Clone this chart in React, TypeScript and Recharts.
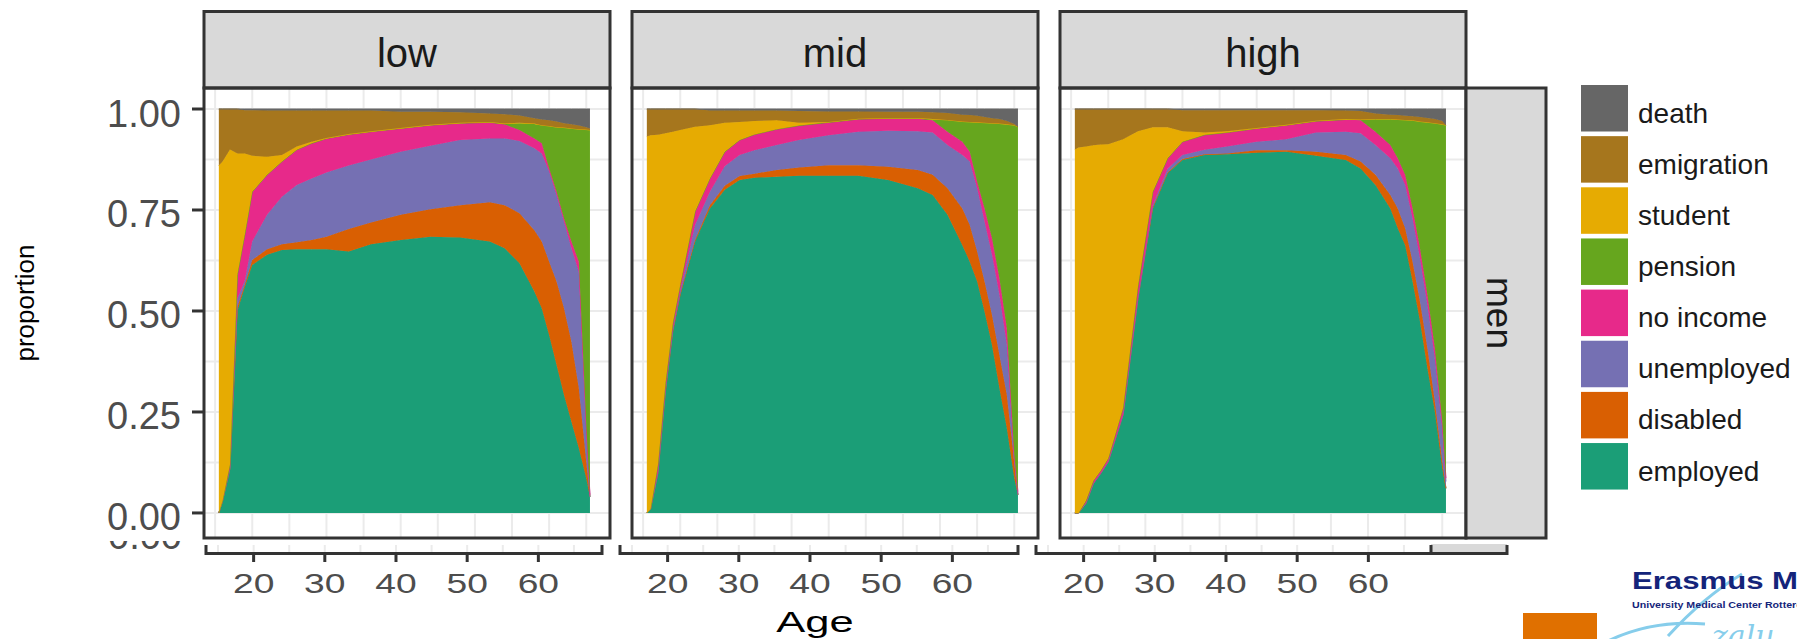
import { AreaChart, Area, XAxis, YAxis, CartesianGrid } from 'recharts'

// ages (years) at which the proportions were read
const ages = [15.5, 16, 17, 18, 19, 20, 22, 24, 26, 28, 30, 33, 36, 40, 44, 48, 52, 54, 56, 58, 59, 60, 61, 62, 63, 64, 65, 65.5]

// low education, men
const lowEmployed = [0, 0.03, 0.11, 0.5, 0.56, 0.614, 0.639, 0.651, 0.653, 0.653, 0.653, 0.647, 0.665, 0.676, 0.684, 0.682, 0.672, 0.655, 0.618, 0.548, 0.507, 0.44, 0.366, 0.292, 0.226, 0.16, 0.086, 0.04]
const lowDisabled = [0, 0, 0, 0.01, 0.005, 0.012, 0.014, 0.014, 0.017, 0.023, 0.031, 0.056, 0.054, 0.062, 0.068, 0.08, 0.097, 0.107, 0.124, 0.152, 0.165, 0.182, 0.207, 0.215, 0.198, 0.149, 0.041, 0]
const lowUnemployed = [0, 0, 0, 0.02, 0.01, 0.046, 0.085, 0.118, 0.142, 0.152, 0.159, 0.157, 0.156, 0.156, 0.157, 0.161, 0.158, 0.165, 0.179, 0.203, 0.218, 0.223, 0.214, 0.214, 0.231, 0.288, 0.083, 0]
const lowNoIncome = [0, 0, 0.01, 0.06, 0.115, 0.123, 0.099, 0.087, 0.087, 0.087, 0.084, 0.077, 0.069, 0.058, 0.051, 0.042, 0.04, 0.035, 0.027, 0.024, 0.025, 0.008, 0.008, 0.008, 0.017, 0.025, 0.008, 0.005]
const lowPension = [0, 0, 0, 0, 0, 0, 0, 0, 0, 0, 0, 0, 0, 0, 0, 0, 0, 0.001, 0.017, 0.036, 0.045, 0.105, 0.16, 0.225, 0.28, 0.328, 0.731, 0.903]
const lowStudent = [0.86, 0.84, 0.78, 0.3, 0.2, 0.089, 0.045, 0.016, 0.008, 0.004, 0.001, 0.001, 0.001, 0.001, 0.001, 0.001, 0.001, 0.001, 0.001, 0.001, 0, 0, 0, 0, 0, 0, 0, 0]
const lowEmigration = [0.14, 0.13, 0.1, 0.11, 0.107, 0.113, 0.114, 0.11, 0.089, 0.077, 0.068, 0.058, 0.051, 0.04, 0.032, 0.026, 0.021, 0.023, 0.018, 0.013, 0.014, 0.014, 0.014, 0.011, 0.01, 0.009, 0.006, 0.004]
const lowDeath = [0, 0, 0, 0, 0.003, 0.003, 0.004, 0.004, 0.004, 0.004, 0.004, 0.004, 0.004, 0.007, 0.007, 0.008, 0.011, 0.013, 0.016, 0.023, 0.026, 0.028, 0.031, 0.035, 0.038, 0.041, 0.045, 0.048]

// mid education, men
const midEmployed = [0, 0.01, 0.1, 0.3, 0.45, 0.54, 0.672, 0.754, 0.8, 0.824, 0.83, 0.832, 0.835, 0.835, 0.835, 0.824, 0.804, 0.787, 0.738, 0.663, 0.622, 0.573, 0.498, 0.416, 0.309, 0.21, 0.086, 0.045]
const midDisabled = [0, 0, 0, 0, 0, 0.002, 0.004, 0.008, 0.01, 0.01, 0.01, 0.017, 0.02, 0.026, 0.026, 0.033, 0.045, 0.05, 0.066, 0.091, 0.091, 0.074, 0.075, 0.074, 0.082, 0.082, 0.041, 0]
const midUnemployed = [0, 0, 0, 0.005, 0.005, 0.006, 0.037, 0.033, 0.048, 0.052, 0.058, 0.062, 0.068, 0.074, 0.083, 0.089, 0.096, 0.105, 0.107, 0.132, 0.157, 0.157, 0.148, 0.149, 0.149, 0.124, 0.008, 0]
const midNoIncome = [0, 0, 0.02, 0.015, 0.015, 0.017, 0.033, 0.033, 0.036, 0.037, 0.039, 0.039, 0.036, 0.032, 0.031, 0.031, 0.031, 0.03, 0.033, 0.033, 0.024, 0.016, 0.033, 0.041, 0.041, 0.041, 0.009, 0.008]
const midPension = [0, 0, 0, 0, 0, 0, 0, 0, 0, 0, 0, 0, 0, 0, 0, 0, 0.001, 0.002, 0.029, 0.05, 0.074, 0.147, 0.212, 0.285, 0.383, 0.505, 0.816, 0.903]
const midStudent = [0.932, 0.925, 0.816, 0.62, 0.474, 0.383, 0.21, 0.132, 0.072, 0.045, 0.033, 0.022, 0.007, 0.001, 0.001, 0.001, 0.001, 0.001, 0, 0, 0, 0, 0, 0, 0, 0, 0, 0]
const midEmigration = [0.068, 0.065, 0.064, 0.06, 0.056, 0.052, 0.044, 0.036, 0.03, 0.028, 0.026, 0.024, 0.029, 0.026, 0.018, 0.015, 0.015, 0.017, 0.017, 0.017, 0.017, 0.016, 0.014, 0.012, 0.011, 0.008, 0.003, 0]
const midDeath = [0, 0, 0, 0, 0, 0, 0, 0.004, 0.004, 0.004, 0.004, 0.004, 0.005, 0.006, 0.006, 0.007, 0.007, 0.008, 0.01, 0.014, 0.015, 0.017, 0.02, 0.023, 0.025, 0.03, 0.037, 0.044]

// high education, men
const highEmployed = [0, 0, 0.024, 0.073, 0.098, 0.127, 0.243, 0.531, 0.754, 0.841, 0.874, 0.886, 0.888, 0.892, 0.894, 0.884, 0.874, 0.853, 0.812, 0.754, 0.705, 0.663, 0.573, 0.474, 0.358, 0.251, 0.111, 0.061]
const highDisabled = [0, 0, 0, 0, 0, 0, 0, 0, 0.002, 0.002, 0.002, 0.002, 0.002, 0.006, 0.004, 0.01, 0.012, 0.017, 0.025, 0.033, 0.049, 0.042, 0.049, 0.049, 0.05, 0.025, 0.016, 0]
const highUnemployed = [0, 0, 0, 0, 0, 0, 0, 0, 0.006, 0.009, 0.01, 0.011, 0.017, 0.021, 0.027, 0.048, 0.058, 0.07, 0.074, 0.091, 0.099, 0.107, 0.107, 0.107, 0.107, 0.107, 0.083, 0.017]
const highNoIncome = [0, 0, 0.006, 0.007, 0.007, 0.008, 0.017, 0.029, 0.033, 0.026, 0.033, 0.037, 0.035, 0.033, 0.035, 0.028, 0.03, 0.032, 0.033, 0.033, 0.025, 0.025, 0.025, 0.025, 0.025, 0.025, 0.016, 0.008]
const highPension = [0, 0, 0, 0, 0, 0, 0, 0, 0, 0, 0, 0, 0, 0, 0, 0, 0, 0.002, 0.031, 0.064, 0.096, 0.136, 0.218, 0.314, 0.427, 0.557, 0.736, 0.874]
const highStudent = [0.9, 0.905, 0.877, 0.83, 0.807, 0.778, 0.665, 0.385, 0.16, 0.077, 0.026, 0.006, 0.003, 0.001, 0.001, 0.001, 0.001, 0, 0, 0, 0, 0, 0, 0, 0, 0, 0, 0]
const highEmigration = [0.1, 0.095, 0.093, 0.09, 0.088, 0.087, 0.075, 0.055, 0.045, 0.045, 0.052, 0.055, 0.052, 0.044, 0.036, 0.026, 0.021, 0.021, 0.014, 0.011, 0.011, 0.01, 0.01, 0.011, 0.011, 0.01, 0.008, 0]
const highDeath = [0, 0, 0, 0, 0, 0, 0, 0, 0, 0, 0.003, 0.003, 0.003, 0.003, 0.003, 0.003, 0.004, 0.005, 0.011, 0.014, 0.015, 0.017, 0.018, 0.02, 0.022, 0.025, 0.03, 0.04]

const panelNames = ['low', 'mid', 'high']
const rowName = 'men'
const yTicks = [0, 0.25, 0.5, 0.75, 1]
const xTicks = [20, 30, 40, 50, 60]
const gridAges = [15, 20, 25, 30, 35, 40, 45, 50, 55, 60, 65]
const gridProps = [0, 0.125, 0.25, 0.375, 0.5, 0.625, 0.75, 0.875, 1]

// stacking order, bottom first (Dark2 palette)
const states = [
  { key: 'employed', color: '#1B9E77' },
  { key: 'disabled', color: '#D95F02' },
  { key: 'unemployed', color: '#7570B3' },
  { key: 'no income', color: '#E7298A' },
  { key: 'pension', color: '#66A61E' },
  { key: 'student', color: '#E6AB02' },
  { key: 'emigration', color: '#A6761D' },
  { key: 'death', color: '#666666' },
]

const panelSeries = [
  [lowEmployed, lowDisabled, lowUnemployed, lowNoIncome, lowPension, lowStudent, lowEmigration, lowDeath],
  [midEmployed, midDisabled, midUnemployed, midNoIncome, midPension, midStudent, midEmigration, midDeath],
  [highEmployed, highDisabled, highUnemployed, highNoIncome, highPension, highStudent, highEmigration, highDeath],
]

function buildRows(series: number[][]) {
  return ages.map((age, i) => {
    const row: Record<string, number> = { age }
    states.forEach((s, j) => {
      row[s.key] = series[j][i]
    })
    return row
  })
}

const FONT = '"Liberation Sans", Arial, Helvetica, sans-serif'
const PANEL_LEFT = [204, 632, 1060]
const PANEL_TOP = 88
const PANEL_W = 406
const PANEL_H = 450
const AXIS_LEFT = [207, 621, 1037]
const AXIS_W = 394

function YTick(props: any) {
  const { x, y, payload } = props
  return (
    <text x={x} y={y + 17.5} textAnchor="end" fontSize={38} fill="#4D4D4D" fontFamily={FONT}>
      {Number(payload.value).toFixed(2)}
    </text>
  )
}

function XTick(props: any) {
  const { x, y, payload } = props
  return (
    <g transform={`translate(${x},${y + 31})`}>
      <text transform="scale(1.33,1)" textAnchor="middle" fontSize={28} fill="#4D4D4D" fontFamily={FONT}>
        {payload.value}
      </text>
    </g>
  )
}

function Panel({ series, withAxis }: { series: number[][]; withAxis: boolean }) {
  const rows = buildRows(series)
  return (
    <AreaChart
      width={withAxis ? PANEL_LEFT[0] + PANEL_W : PANEL_W}
      height={PANEL_H}
      data={rows}
      margin={{ top: 0, right: 0, bottom: 0, left: 0 }}
    >
      <CartesianGrid stroke="#EBEBEB" strokeWidth={2} verticalValues={gridAges} horizontalValues={gridProps} />
      <XAxis type="number" dataKey="age" domain={[13.5, 68.2]} ticks={gridAges} allowDataOverflow hide />
      <YAxis
        type="number"
        domain={[-0.062, 1.052]}
        ticks={yTicks}
        allowDataOverflow
        hide={!withAxis}
        width={PANEL_LEFT[0]}
        axisLine={false}
        tickSize={12}
        tickMargin={11}
        tickLine={{ stroke: '#333333', strokeWidth: 3 }}
        tick={(p: any) => <YTick {...p} />}
        interval={0}
      />
      {states.map((s) => (
        <Area
          key={s.key}
          type="linear"
          dataKey={s.key}
          stackId="1"
          fill={s.color}
          fillOpacity={1}
          stroke={s.color}
          strokeWidth={1}
          dot={false}
          activeDot={false}
          isAnimationActive={false}
        />
      ))}
    </AreaChart>
  )
}

function AgeAxis({ series }: { series: number[][] }) {
  return (
    <AreaChart width={AXIS_W} height={60} data={buildRows(series)} margin={{ top: 0, right: 0, bottom: 0, left: 0 }}>
      <CartesianGrid stroke="#EBEBEB" strokeWidth={2} horizontal={false} verticalValues={gridAges} />
      <XAxis
        type="number"
        dataKey="age"
        domain={[13.45, 68.8]}
        ticks={xTicks}
        allowDataOverflow
        height={52}
        axisLine={false}
        tickSize={9}
        tickMargin={0}
        tickLine={{ stroke: '#333333', strokeWidth: 3 }}
        tick={(p: any) => <XTick {...p} />}
        interval={0}
      />
      <YAxis hide domain={[0, 1]} />
    </AreaChart>
  )
}

export default function App() {
  return (
    <div
      style={{
        position: 'absolute',
        left: 0,
        top: 0,
        width: 1797,
        height: 639,
        overflow: 'hidden',
        background: '#ffffff',
        fontFamily: FONT,
      }}
    >
      {panelSeries.map((series, i) => (
        <div key={panelNames[i]} style={{ position: 'absolute', left: i === 0 ? 0 : PANEL_LEFT[i], top: PANEL_TOP }}>
          <Panel series={series} withAxis={i === 0} />
        </div>
      ))}
      {panelSeries.map((series, i) => (
        <div key={'ax' + i} style={{ position: 'absolute', left: AXIS_LEFT[i], top: 545 }}>
          <AgeAxis series={series} />
        </div>
      ))}

      <svg width={1797} height={639} style={{ position: 'absolute', left: 0, top: 0, pointerEvents: 'none' }}>
        <defs>
          <clipPath id="cut">
            <rect x={100} y={541} width={90} height={8} />
          </clipPath>
        </defs>

        {/* facet strips and panel borders */}
        {panelNames.map((name, i) => (
          <g key={name}>
            <rect x={PANEL_LEFT[i]} y={11.5} width={PANEL_W} height={PANEL_TOP - 11.5} fill="#D9D9D9" stroke="#333333" strokeWidth={3} />
            <text x={PANEL_LEFT[i] + PANEL_W / 2} y={67} textAnchor="middle" fontSize={40} fill="#1A1A1A" fontFamily={FONT}>
              {name}
            </text>
            <rect x={PANEL_LEFT[i]} y={PANEL_TOP} width={PANEL_W} height={PANEL_H} fill="none" stroke="#333333" strokeWidth={3} />
          </g>
        ))}
        <rect x={1466} y={PANEL_TOP} width={80} height={PANEL_H} fill="#D9D9D9" stroke="#333333" strokeWidth={3} />
        <text transform="translate(1487,313) rotate(90)" textAnchor="middle" fontSize={37} fill="#1A1A1A" fontFamily={FONT}>
          {rowName}
        </text>

        {/* y title */}
        <text transform="translate(34,303) rotate(-90)" textAnchor="middle" fontSize={26} fill="#000000" fontFamily={FONT}>
          proportion
        </text>

        {/* remnant of the lower picture's 0.00 label */}
        <text x={182} y={549} textAnchor="end" fontSize={38} fill="#4D4D4D" fontFamily={FONT} clipPath="url(#cut)">
          0.00
        </text>

        {/* lower x-axis brackets */}
        <path d="M206,545 V553.5 H602 V545" fill="none" stroke="#333333" strokeWidth={3} />
        <path d="M620,545 V553.5 H1018 V545" fill="none" stroke="#333333" strokeWidth={3} />
        <rect x={1431} y={544} width={76} height={9} fill="#D9D9D9" />
        <path d="M1036,545 V553.5 H1507 V545 M1431,545 V553" fill="none" stroke="#333333" strokeWidth={3} />

        <text transform="translate(815,632) scale(1.5,1)" textAnchor="middle" fontSize={29} fill="#000000" fontFamily={FONT}>
          Age
        </text>

        {/* legend, top to bottom */}
        {[...states].reverse().map((s, i) => {
          const top = 85 + i * 51.15
          return (
            <g key={s.key}>
              <rect x={1581} y={top} width={47} height={46.5} fill={s.color} />
              <text x={1638} y={top + 37.5} fontSize={28} fill="#1A1A1A" fontFamily={FONT}>
                {s.key}
              </text>
            </g>
          )
        })}

        {/* logo corner */}
        <rect x={1523} y={613} width={74} height={30} fill="#E07000" />
        <path d="M1608,641 C1635,628 1668,621 1705,624" fill="none" stroke="#86CDEB" strokeWidth={3} />
        <path d="M1668,636 C1690,612 1712,592 1742,574" fill="none" stroke="#86CDEB" strokeWidth={3} />
        <text x={1712} y={646} fontSize={30} fontStyle="italic" fill="#86CDEB" fontFamily='"DejaVu Serif", serif'>
          zalu
        </text>
        <text transform="translate(1632,589) scale(1.27,1)" fontSize={24.5} fontWeight="bold" fill="#14247A" fontFamily={FONT}>
          Erasmus MC
        </text>
        <text transform="translate(1632,607.5) scale(1.12,1)" fontSize={9.5} fontWeight="bold" fill="#14247A" fontFamily={FONT}>
          University Medical Center Rotterdam
        </text>
      </svg>
    </div>
  )
}
